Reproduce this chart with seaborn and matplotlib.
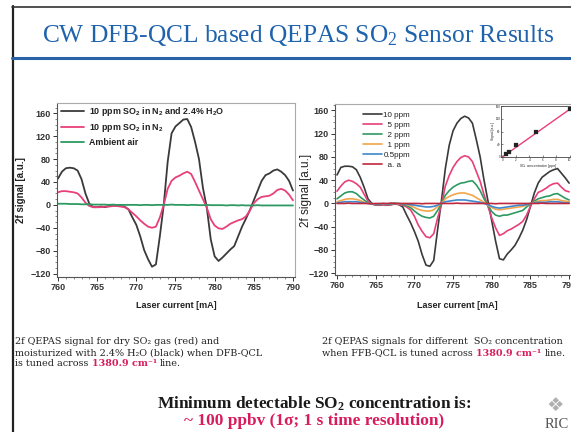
import matplotlib
matplotlib.use("Agg")
import matplotlib.pyplot as plt
from matplotlib.lines import Line2D
from matplotlib.ticker import MultipleLocator
import numpy as np
import pandas as pd
import seaborn as sns

# ---------------- data ----------------
current = [760.0, 760.5, 761.0, 761.5, 762.0, 762.5, 763.0, 763.5, 764.0, 764.5,
           765.0, 765.5, 766.0, 766.5, 767.0, 767.5, 768.0, 768.5, 769.0, 769.5,
           770.0, 770.5, 771.0, 771.5, 772.0, 772.5, 773.0, 773.5, 774.0, 774.5,
           775.0, 775.5, 776.0, 776.5, 777.0, 777.5, 778.0, 778.5, 779.0, 779.5,
           780.0, 780.5, 781.0, 781.5, 782.0, 782.5, 783.0, 783.5, 784.0, 784.5,
           785.0, 785.5, 786.0, 786.5, 787.0, 787.5, 788.0, 788.5, 789.0, 789.5,
           790.0]

# left panel
left_wet = [46, 58, 64, 65, 64, 60, 45, 20, 2, -4,
            -4, -3, -4, -2, 0, -2, -2, -3, -8, -22,
            -35, -55, -79, -95, -108, -104, -55, 0, 75, 125,
            137, 143, 149, 150, 136, 110, 80, 30, -5, -60,
            -90, -98, -92, -85, -78, -72, -55, -38, -24, -9,
            8, 25, 42, 52, 55, 60, 62, 58, 52, 42,
            25]
left_dry = [22, 24, 24, 23, 22, 20, 13, 4, -2, -4,
            -4, -4, -3, -3, -2, -2, -3, -4, -8, -14,
            -20, -27, -33, -38, -40, -38, -22, 0, 28, 42,
            48, 51, 55, 58, 54, 40, 25, 10, -5, -25,
            -36, -41, -42, -38, -33, -30, -27, -25, -20, -10,
            3, 10, 14, 15, 16, 20, 26, 28, 25, 18,
            8]
left_air = [2, 2, 2, 1.5, 1.5, 1.5, 1, 1, 1, 0.5,
            0.5, 0.5, 0.5, 0, 0.5, 0, 0, 0, 0, 0,
            0, -0.5, 0, 0, -0.5, 0, 0, 0, 0, 0.5,
            0, 0, 0, -0.5, 0, 0, -0.5, -0.5, 0, -0.5,
            -0.5, -0.5, -0.5, -1, -0.5, -0.5, -1, -0.5, -1, -1,
            -1, -0.5, -1, -1, -1, -1, -1, -1, -1, -1,
            -1]
left_labels = ["10 ppm SO$\\mathregular{_2}$ in N$\\mathregular{_2}$ and 2.4% H$\\mathregular{_2}$O",
               "10 ppm SO$\\mathregular{_2}$ in N$\\mathregular{_2}$",
               "Ambient air"]

# right panel
r_10 = [49, 62, 64, 64, 63, 58, 45, 28, 8, 0,
        -2, -3, -2, -3, -2, 0, -2, -6, -20, -33,
        -48, -65, -88, -106, -108, -98, -45, 5, 60, 100,
        125, 138, 146, 150, 147, 138, 110, 80, 40, 5,
        -30, -65, -95, -97, -87, -80, -72, -60, -46, -28,
        -5, 18, 35, 45, 50, 55, 58, 60, 52, 44,
        35]
r_5 = [21, 30, 37, 40, 38, 34, 28, 16, 4, -1,
       -3, -3, -2, -3, -2, -1, -2, -3, -6, -11,
       -22, -37, -48, -57, -59, -52, -25, -2, 30, 48,
       62, 72, 79, 82, 80, 72, 55, 38, 15, -5,
       -25, -42, -55, -52, -47, -44, -40, -36, -31, -20,
       -5, 8, 19, 22, 26, 31, 34, 35, 28, 22,
       20]
r_2 = [8, 13, 18, 20, 20, 17, 11, 6, 1, -1,
       -2, -2, -1, -2, -1, 0, -1, -2, -4, -7,
       -13, -18, -22, -24, -25, -22, -12, 0, 14, 22,
       28, 32, 35, 36, 38, 39, 32, 22, 8, -3,
       -14, -20, -22, -20, -20, -18, -16, -14, -12, -6,
       -1, 4, 8, 10, 12, 13, 16, 17, 13, 9,
       6]
r_1 = [3, 5, 7, 8, 8, 7, 5, 2, 0, -1,
       -1, -1, -1, -1, 0, 0, -1, -1, -2, -4,
       -7, -10, -12, -13, -13, -11, -5, 0, 8, 12,
       15, 17, 18, 18, 16, 14, 10, 6, 2, -3,
       -7, -10, -11, -10, -9, -8, -7, -6, -5, -3,
       0, 2, 4, 5, 5, 6, 7, 7, 5, 4,
       3]
r_05 = [1, 2, 3, 3, 3, 3, 2, 1, 0, 0,
        -1, -1, 0, -1, 0, 0, 0, -1, -1, -2,
        -3, -4, -5, -6, -6, -5, -3, 0, 3, 4,
        5, 6, 6, 6, 5, 4, 3, 2, 0, -2,
        -5, -7, -8, -7, -6, -5, -4, -3, -3, -2,
        0, 1, 2, 2, 2, 3, 3, 3, 2, 1,
        1]
r_aa = [0, 0, 0, 0.5, 0, 0, 0, 0, 0, -0.5,
        0, 0, 0, 0, 0.5, 0, 0, 0, 0, 0,
        0, 0, -0.5, 0, 0, 0, 0, 0, 0, 0,
        0, 0.5, 0, 0, 0, 0, 0, 0, 0, 0,
        0, -0.5, 0, 0, 0, 0, 0, 0, 0, 0,
        0, 0, 0, 0.5, 0, 0, 0, 0, 0, 0,
        0]
right_labels = ["10 ppm", "  5 ppm", "  2 ppm", "  1 ppm", "0.5ppm", "  a. a"]

# inset (calibration)
inset_conc = [0.5, 1, 2, 5, 10]
inset_signal = [8, 17, 38, 80, 150]
inset_fit_x = [0, 10.5]
inset_fit_y = [0, 157]

xticks = [760, 765, 770, 775, 780, 785, 790]
yticks = [-120, -80, -40, 0, 40, 80, 120, 160]

# ---------------- styling ----------------
W, H = 571, 432
sns.set_theme(style="white")
plt.rcParams['font.family'] = ['Liberation Sans', 'DejaVu Sans']

fig = plt.figure(figsize=(W / 100, H / 100), dpi=100)
fig.patch.set_facecolor("white")

def fx(px):
    return px / W

def fy(py):
    return 1 - py / H

def box(l, t, r, b):
    return [fx(l), fy(b), (r - l) / W, (b - t) / H]

BLACK = "#3a3a3a"
PINK = "#e8407a"
GREEN = "#2e9a62"
ORANGE = "#f2a64a"
BLUE = "#3f86cf"
DRED = "#c0283c"
RED_TXT = "#d81b5c"

def style_axes(ax, ylim, xlim):
    ax.set_xlim(*xlim)
    ax.set_ylim(*ylim)
    ax.set_xticks(xticks)
    ax.set_yticks(yticks)
    ax.yaxis.set_minor_locator(MultipleLocator(10))
    ax.xaxis.set_minor_locator(MultipleLocator(1))
    ax.tick_params(axis='both', which='major', direction='out', length=3, width=0.7,
                   labelsize=6.5, pad=1.5, colors="#333333", bottom=True, left=True)
    ax.tick_params(axis='both', which='minor', direction='out', length=1.5, width=0.5,
                   bottom=True, left=True, colors="#555555")
    for lab in ax.get_xticklabels() + ax.get_yticklabels():
        lab.set_fontweight('bold')
    for s in ['left', 'bottom']:
        ax.spines[s].set_color("#555555")
        ax.spines[s].set_linewidth(0.8)
    for s in ['top', 'right']:
        ax.spines[s].set_color("#aaaaaa")
        ax.spines[s].set_linewidth(0.8)
    ax.set_xlabel("")
    ax.set_ylabel("")

# ---------------- left panel ----------------
axL = fig.add_axes(box(57, 103, 295, 277))
for vals, col, lab in zip([left_wet, left_dry, left_air], [BLACK, PINK, GREEN], left_labels):
    sns.lineplot(x=current, y=vals, ax=axL, color=col, lw=1.3, label=lab)
style_axes(axL, (-126, 178), (759.87, 790.26))
legL = axL.legend(loc='upper left', bbox_to_anchor=(0.0, 1.015), frameon=False,
                  fontsize=6.4, handlelength=2.5, handletextpad=0.6, labelspacing=0.4,
                  borderaxespad=0.2, borderpad=0.3)
for t in legL.get_texts():
    t.set_fontweight('bold')
    t.set_color("#222222")

fig.text(fx(21), fy(190), "2f signal [a.u.]", rotation=90, ha='center', va='center',
         fontsize=7, fontweight='bold', color="#222222")
fig.text(fx(176), fy(305), "Laser current [mA]", ha='center', va='center',
         fontsize=6.5, fontweight='bold', color="#222222")

# ---------------- right panel ----------------
axR = fig.add_axes(box(335, 104, 573, 275))
series_R = [r_10, r_5, r_2, r_1, r_05, r_aa]
cols_R = [BLACK, PINK, GREEN, ORANGE, BLUE, DRED]
for vals, col, lab in zip(series_R, cols_R, right_labels):
    sns.lineplot(x=current, y=vals, ax=axR, color=col, lw=1.2, label=lab)
style_axes(axR, (-123, 171), (759.74, 790.5))
axR.spines['right'].set_visible(False)
legR = axR.legend(loc='upper left', bbox_to_anchor=(0.1, 0.985), frameon=False,
                  fontsize=5.8, handlelength=2.3, handletextpad=0.2, labelspacing=0.3,
                  borderaxespad=0.25, borderpad=0.3)
for t in legR.get_texts():
    t.set_color("#222222")

fig.text(fx(306), fy(190), "2f signal [a.u.]", rotation=90, ha='center', va='center',
         fontsize=8.5, color="#222222")
fig.text(fx(457), fy(305), "Laser current [mA]", ha='center', va='center',
         fontsize=6.5, fontweight='bold', color="#222222")

# inset
axI = fig.add_axes(box(501, 106, 575, 157))
sns.lineplot(x=inset_fit_x, y=inset_fit_y, ax=axI, color=PINK, lw=1.0)
sns.scatterplot(x=inset_conc, y=inset_signal, ax=axI, color="#222222", marker='s', s=5,
                edgecolor="#222222", zorder=5)
axI.set_xlim(-0.2, 10.8)
axI.set_ylim(0, 160)
axI.set_xticks([0, 2, 4, 6, 8, 10])
axI.set_yticks([0, 40, 80, 120, 160])
axI.tick_params(labelsize=2.2, length=1.2, width=0.4, pad=0.5, direction='in',
                bottom=True, left=True)
for s in axI.spines.values():
    s.set_color("#444444")
    s.set_linewidth(0.6)
axI.set_xlabel("SO$\\mathregular{_2}$ concentration [ppm]", fontsize=2.4, labelpad=0.5)
axI.set_ylabel("Signal [a.u.]", fontsize=2.4, labelpad=0.5)
axI.set_facecolor("white")

# ---------------- slide decorations ----------------
fig.add_artist(Line2D([fx(12.5), fx(12.5)], [fy(6), fy(432)], color="#222222", lw=1.6))
fig.add_artist(Line2D([fx(12), fx(571)], [fy(6.5), fy(6.5)], color="#333333", lw=1.2))
fig.add_artist(Line2D([fx(12), fx(571)], [fy(58), fy(58)], color="#2a62a8", lw=2.2))

SERIF = ['Liberation Serif', 'DejaVu Serif']
fig.text(fx(298), fy(35), "CW DFB-QCL based QEPAS SO$\\mathregular{_2}$ Sensor Results",
         ha='center', va='center', fontsize=18.3, family=SERIF, color="#1f63ad")

renderer = fig.canvas.get_renderer()
CAPFAM = ['DejaVu Serif']

def space_w(size, weight):
    a = fig.text(0, 0, "x x", fontsize=size, family=CAPFAM, weight=weight)
    b = fig.text(0, 0, "xx", fontsize=size, family=CAPFAM, weight=weight)
    w = a.get_window_extent(renderer).width - b.get_window_extent(renderer).width
    a.remove()
    b.remove()
    return w

def seg_text(x, y, parts, size):
    for s, color, weight, gap in parts:
        x += gap * space_w(size, weight)
        t = fig.text(fx(x), fy(y), s, color=color, fontsize=size, family=CAPFAM,
                     weight=weight, ha='left', va='baseline')
        x += t.get_window_extent(renderer).width

CAP = 6.9
seg_text(15, 344.5, [("2f QEPAS signal for dry SO₂ gas (red) and", "#222222", 'normal', 0)], CAP)
seg_text(15, 355.5, [("moisturized with 2.4% H₂O (black) when DFB-QCL", "#222222", 'normal', 0)], CAP)
seg_text(15, 366.5, [("is tuned across", "#222222", 'normal', 0),
                     ("1380.9 cm⁻¹", RED_TXT, 'bold', 1),
                     ("line.", "#222222", 'normal', 1)], CAP)
seg_text(322, 344.5, [("2f QEPAS signals for different  SO₂ concentration", "#222222", 'normal', 0)], CAP)
seg_text(322, 355.5, [("when FFB-QCL is tuned across", "#222222", 'normal', 0),
                      ("1380.9 cm⁻¹", RED_TXT, 'bold', 1),
                      ("line.", "#222222", 'normal', 1)], CAP)

fig.text(fx(314), fy(404), "Minimum detectable SO$\\mathregular{_2}$ concentration is:",
         ha='center', va='center', fontsize=12.4, fontweight='bold', family=SERIF, color="#1a1a1a")
fig.text(fx(314), fy(421), "~ 100 ppbv (1σ; 1 s time resolution)",
         ha='center', va='center', fontsize=12.4, fontweight='bold', family=SERIF, color=RED_TXT)

fig.text(fx(545), fy(425), "RIC", ha='left', va='center', fontsize=10.5,
         family=SERIF, color="#555555")
fig.text(fx(555), fy(405), "❖", ha='center', va='center', fontsize=14,
         family=['DejaVu Sans'], color="#b0b0b0")

fig.savefig("out.png", dpi=100)
